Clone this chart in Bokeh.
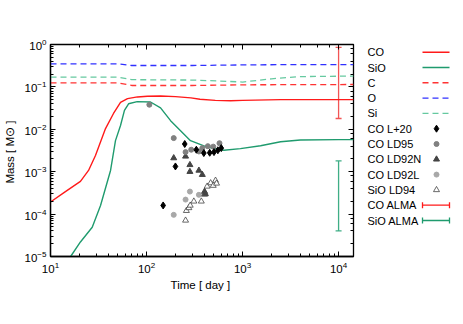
from bokeh.plotting import figure
from bokeh.models import (Range1d, LogAxis, LogTicker, CustomJSTickFormatter, Whisker,
                          TeeHead, ColumnDataSource)
from bokeh.layouts import row
from bokeh.core.properties import value
from bokeh.embed import file_html
from bokeh.resources import INLINE

# ---------------- data ----------------
co_t = [10, 14.3, 20.5, 24.9, 29.4, 37.4, 45.3, 53.6, 63.4, 80.5, 102, 140, 200, 290, 360,
        520, 750, 1000, 2500, 5000, 10000, 14300]
co_m = [1.93e-4, 3.4e-4, 5.9e-4, 1.07e-3, 2.4e-3, 1.04e-2, 2.36e-2, 4.3e-2, 5.3e-2, 5.8e-2,
        6.0e-2, 6.1e-2, 5.9e-2, 5.5e-2, 5.1e-2, 4.8e-2, 4.7e-2, 4.8e-2, 5.0e-2, 5.0e-2,
        5.0e-2, 5.0e-2]

sio_t = [14, 16.2, 20.5, 27.2, 33.2, 42.2, 47.5, 53.6, 58.9, 65, 80, 110, 140, 178, 226, 287,
         428, 640, 950, 1540, 2490, 4000, 10000, 14300]
sio_m = [6e-6, 1e-5, 2.2e-5, 4.9e-5, 1.6e-4, 1.07e-3, 5.4e-3, 1.23e-2, 2.8e-2, 4.0e-2, 4.5e-2,
         4.4e-2, 3.2e-2, 1.6e-2, 9.3e-3, 5.4e-3, 3.8e-3, 3.2e-3, 3.5e-3, 4.1e-3, 5.1e-3,
         5.6e-3, 5.7e-3, 5.7e-3]

c_t = [10, 50, 70, 300, 1000, 14300]
c_m = [0.125, 0.125, 0.108, 0.108, 0.112, 0.114]

o_t = [10, 50, 70, 300, 1000, 3000, 14300]
o_m = [0.35, 0.35, 0.32, 0.32, 0.33, 0.335, 0.335]

si_t = [10, 50, 70, 300, 700, 1000, 2000, 4000, 14300]
si_m = [0.17, 0.17, 0.148, 0.145, 0.135, 0.13, 0.155, 0.175, 0.18]

l20_t = [149, 200, 250, 330, 395, 455, 504, 553, 600]
l20_m = [1.6e-4, 1.33e-3, 4.5e-3, 3.3e-3, 2.75e-3, 2.8e-3, 2.9e-3, 3.2e-3, 3.6e-3]

ld95_t = [107, 192, 255, 292, 351, 381, 435, 495, 575]
ld95_m = [3.8e-2, 6.2e-3, 2.9e-3, 3.3e-3, 3.0e-3, 3.6e-3, 4.0e-3, 3.9e-3, 4.7e-3]

ld92n_t = [192, 255, 283, 283, 351, 381, 402, 410]
ld92n_m = [2.1e-3, 2.3e-3, 1.45e-3, 1.0e-3, 1.07e-3, 8.5e-4, 3.4e-4, 3.0e-4]

ld92l_t = [192, 255, 283, 351]
ld92l_m = [9.6e-5, 2.2e-4, 3.4e-4, 2.85e-4]

ld94_t = [255, 260, 276, 285, 311, 372, 402, 428, 465, 495, 523, 536]
ld94_m = [7.1e-5, 1.2e-4, 1.4e-4, 1.6e-4, 2.0e-4, 2.0e-4, 2.9e-4, 4.5e-4, 5.4e-4, 4.7e-4,
          6.2e-4, 5.3e-4]

alma_t = [1.0e4]
co_alma_lo, co_alma_hi = [0.018], [0.86]
sio_alma_lo, sio_alma_hi = [4e-5], [1.8e-3]

legend_labels = ["CO", "SiO", "C", "O", "Si", "CO L+20", "CO LD95", "CO LD92N",
                 "CO LD92L", "SiO LD94", "CO ALMA", "SiO ALMA"]

# ---------------- styles ----------------
FONT = "Liberation Sans"
RED = "#ff1a1a"
GREEN = "#1f9b6e"
RED_D = "#ff3333"
BLUE_D = "#3030ff"
GREEN_D = "#66c9a0"
DASH = "6 4"
RED_ERR = "#f25555"
GREEN_ERR = "#3fae86"

BT, BB = 44, 54          # top / bottom borders
FW, FH = 303, 212        # frame size
BL, BR = 50, 5
H = BT + FH + BB

p = figure(x_axis_type="log", y_axis_type="log",
           x_range=Range1d(10, 14300), y_range=Range1d(1e-5, 1),
           width=BL + FW + BR, height=H,
           min_border_left=BL, min_border_right=BR, min_border_top=BT, min_border_bottom=BB,
           output_backend="svg", toolbar_location=None)
p.xgrid.visible = False
p.ygrid.visible = False
p.outline_line_color = "black"
p.outline_line_width = 1.3

for ax in (p.xaxis[0], p.yaxis[0]):
    ax.major_tick_in = 5
    ax.major_tick_out = 0
    ax.minor_tick_in = 3
    ax.minor_tick_out = 0
    ax.axis_line_color = "black"
    ax.axis_line_width = 1.3
    ax.major_label_text_font = FONT
    ax.major_label_text_font_size = "11.5px"
    ax.major_label_text_color = "black"
    ax.axis_label_text_font = FONT
    ax.axis_label_text_font_size = "11.5px"
    ax.axis_label_text_font_style = "normal"
    ax.axis_label_text_color = "black"
p.xaxis.axis_label = "Time  [ day ]"
p.yaxis.axis_label = "Mass  [ M\u2299 ]"
p.xaxis.major_label_standoff = 5
p.yaxis.major_label_standoff = 4
p.xaxis.axis_label_standoff = 3
p.yaxis.axis_label_standoff = 6

blank = CustomJSTickFormatter(code="return ''")
for loc in ("above", "right"):
    ax = LogAxis(ticker=LogTicker(), formatter=blank)
    ax.major_tick_in = 5
    ax.major_tick_out = 0
    ax.minor_tick_in = 3
    ax.minor_tick_out = 0
    ax.axis_line_color = None
    ax.major_label_text_font_size = "1px"
    p.add_layout(ax, loc)

# model lines
p.line(o_t, o_m, line_color=BLUE_D, line_width=1.3, line_dash=DASH)
p.line(si_t, si_m, line_color=GREEN_D, line_width=1.3, line_dash=DASH)
p.line(c_t, c_m, line_color=RED_D, line_width=1.3, line_dash=DASH)
p.line(co_t, co_m, line_color=RED, line_width=1.4)
p.line(sio_t, sio_m, line_color=GREEN, line_width=1.4)

# observations
p.scatter(ld92l_t, ld92l_m, marker="circle", size=5, color="#a8a8a8")
p.scatter(ld94_t, ld94_m, marker="triangle", size=6, line_color="#444444",
          fill_color="white", line_width=0.8)
p.scatter(ld92n_t, ld92n_m, marker="triangle", size=6, color="#444444")
p.scatter(ld95_t, ld95_m, marker="circle", size=5, color="#808080")
p.scatter(l20_t, l20_m, marker="diamond", size=7, color="black")

# ALMA error bars
for lo, hi, col in ((co_alma_lo, co_alma_hi, RED_ERR), (sio_alma_lo, sio_alma_hi, GREEN_ERR)):
    src = ColumnDataSource(dict(t=alma_t, lo=lo, hi=hi))
    w = Whisker(base="t", lower="lo", upper="hi", source=src, dimension="height",
                line_color=col, line_width=1.3,
                upper_head=TeeHead(size=6, line_color=col, line_width=1.3),
                lower_head=TeeHead(size=6, line_color=col, line_width=1.3))
    p.add_layout(w)

# ---------------- legend panel (page pixel coordinates) ----------------
LX0, LX1 = BL + FW + BR, 455
leg = figure(width=LX1 - LX0, height=H,
             x_range=Range1d(LX0, LX1), y_range=Range1d(BT + FH, BT),
             x_axis_type=None, y_axis_type=None,
             min_border_left=0, min_border_right=0, min_border_top=BT, min_border_bottom=BB,
             outline_line_color=None, output_backend="svg", toolbar_location=None)
leg.xgrid.visible = False
leg.ygrid.visible = False

row_y = [51.7 + 15.3 * i for i in range(len(legend_labels))]
leg.text(x=[367] * len(legend_labels), y=row_y, text=legend_labels,
         text_font=value(FONT), text_font_size="11px", text_baseline="middle",
         text_align="left", text_color="black")

sx0, sx1, sxm = 422, 449, 436
line_styles = [(RED, None), (GREEN, None), (RED_D, DASH), (BLUE_D, DASH), (GREEN_D, DASH)]
for i, (col, dash) in enumerate(line_styles):
    kw = dict(line_dash=dash) if dash else {}
    leg.line([sx0, sx1], [row_y[i], row_y[i]], line_color=col, line_width=1.4, **kw)

leg.scatter([sxm], [row_y[5]], marker="diamond", size=7, color="black")
leg.scatter([sxm], [row_y[6]], marker="circle", size=5, color="#808080")
leg.scatter([sxm], [row_y[7]], marker="triangle", size=6, color="#444444")
leg.scatter([sxm], [row_y[8]], marker="circle", size=5, color="#a8a8a8")
leg.scatter([sxm], [row_y[9]], marker="triangle", size=6, line_color="#444444",
            fill_color="white", line_width=0.8)
for i, col in ((10, RED), (11, GREEN)):
    y = row_y[i]
    leg.segment(x0=[sx0, sx0, sx1], y0=[y, y - 3, y - 3],
                x1=[sx1, sx0, sx1], y1=[y, y + 3, y + 3], line_color=col, line_width=1.3)

layout = row(p, leg)
open("out.html", "w").write(file_html(layout, INLINE))
